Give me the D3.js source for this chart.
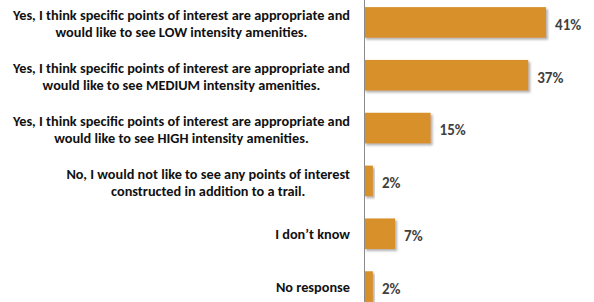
<!DOCTYPE html>
<html>
<head>
<meta charset="utf-8">
<script src="https://cdn.jsdelivr.net/npm/d3@7"></script>
<style>
  html, body { margin: 0; padding: 0; background: #fff; }
  svg { display: block; }
</style>
</head>
<body>
<script>
const categories = [
  ["Yes, I think specific points of interest are appropriate and", "would like to see LOW intensity amenities."],
  ["Yes, I think specific points of interest are appropriate and", "would like to see MEDIUM intensity amenities."],
  ["Yes, I think specific points of interest are appropriate and", "would like to see HIGH intensity amenities."],
  ["No, I would not like to see any points of interest", "constructed in addition to a trail."],
  ["I don\u2019t know"],
  ["No response"]
];
const values = [41, 37, 15, 2, 7, 2];
const valueLabels = ["41%", "37%", "15%", "2%", "7%", "2%"];

const W = 594, H = 302;
const svg = d3.select("body").append("svg").attr("width", W).attr("height", H);

const defs = svg.append("defs");
const f = defs.append("filter").attr("id", "shadow").attr("x", "-10%").attr("y", "-20%").attr("width", "130%").attr("height", "160%");
f.append("feDropShadow").attr("dx", 2).attr("dy", 2).attr("stdDeviation", 0.8)
  .attr("flood-color", "#777").attr("flood-opacity", 0.55);

const axisX = 364;
const x = d3.scaleLinear().domain([0, 50]).range([axisX, axisX + 222]);
const idx = d3.range(categories.length);
const y = d3.scaleBand().domain(idx).range([-4, 313]).paddingInner(0.42).paddingOuter(0.21);

const font = "Carlito, Calibri, Lato, sans-serif";

// bars
svg.append("g").selectAll("rect").data(idx).join("rect")
  .attr("x", x(0))
  .attr("y", i => y(i))
  .attr("width", i => x(values[i]) - x(0))
  .attr("height", y.bandwidth())
  .attr("fill", "#D8912B")
  .attr("filter", "url(#shadow)");

// axis line
svg.append("line")
  .attr("x1", axisX + 0.5).attr("x2", axisX + 0.5)
  .attr("y1", 0).attr("y2", H)
  .attr("stroke", "#8a8a8a").attr("stroke-width", 1);

// value labels
svg.append("g").selectAll("text").data(idx).join("text")
  .attr("x", i => x(values[i]) + 9)
  .attr("y", i => y(i) + y.bandwidth() / 2 + 2)
  .attr("dy", "0.35em")
  .attr("font-family", font)
  .attr("font-weight", "bold")
  .attr("font-size", "15px")
  .attr("fill", "#404040")
  .text(i => valueLabels[i]);

// category labels
const rightEdge = 350;
const lineH = 17;
const cg = svg.append("g");
idx.forEach(i => {
  const lines = categories[i];
  const t = cg.append("text")
    .attr("font-family", font)
    .attr("font-weight", "bold")
    .attr("font-size", "14.3px")
    .attr("fill", "#111")
    .attr("text-anchor", "middle");
  const cy = y(i) + y.bandwidth() / 2 + (lines.length > 1 ? 1.5 : 0);
  const spans = lines.map((ln, k) => t.append("tspan")
    .attr("y", cy + (k - (lines.length - 1) / 2) * lineH)
    .attr("dy", "0.35em")
    .text(ln));
  let maxW = 0;
  spans.forEach(s => { maxW = Math.max(maxW, s.node().getComputedTextLength()); });
  spans.forEach(s => s.attr("x", rightEdge - maxW / 2));
});
</script>
</body>
</html>
